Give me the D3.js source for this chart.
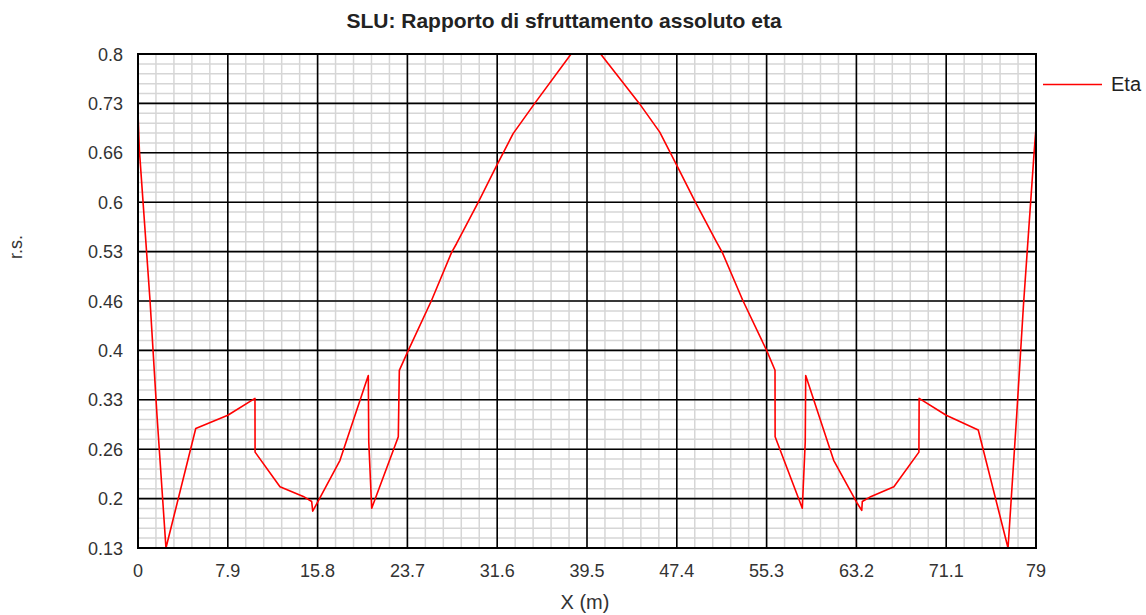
<!DOCTYPE html>
<html>
<head>
<meta charset="utf-8">
<script src="https://cdn.jsdelivr.net/npm/d3@7"></script>
<style>
  body { margin: 0; background: #fff; }
  text { font-family: "Liberation Sans", Arial, sans-serif; }
</style>
</head>
<body>
<svg width="1146" height="615"></svg>
<script>
// DATA

// x positions along the beam (m)
var xValues = [0, 0.12, 1.06, 1.67, 2.46, 5.08, 7.9, 10.29, 10.3, 12.49, 14.54, 15.28, 15.37, 15.72,
  17.77, 20.26, 20.3, 20.56, 22.9, 22.99, 23.78, 25.83, 27.59, 28.03, 29.94, 31.56, 33.0, 34.9,
  38.1, 40.7, 44.1, 45.9, 47.4, 49.0, 50.9, 51.4, 53.2, 55.3, 56.04, 56.05, 58.44, 58.7, 58.74,
  61.2, 63.3, 63.67, 63.72, 64.5, 66.5, 68.7, 68.72, 71.1, 73.92, 76.54, 77.3, 77.9, 78.85, 79];

// eta values
var etaValues = [0.72, 0.67, 0.465, 0.31, 0.13, 0.292, 0.31, 0.333, 0.26, 0.213, 0.2, 0.193, 0.18, 0.19,
  0.249, 0.364, 0.274, 0.184, 0.281, 0.371, 0.398, 0.466, 0.531, 0.543, 0.599, 0.649, 0.692, 0.733,
  0.8, 0.8, 0.733, 0.694, 0.649, 0.6, 0.545, 0.531, 0.466, 0.398, 0.371, 0.281, 0.184, 0.274, 0.364,
  0.249, 0.19, 0.181, 0.193, 0.2, 0.213, 0.26, 0.333, 0.31, 0.29, 0.13, 0.31, 0.46, 0.67, 0.70];

var xTicks = [0, 7.9, 15.8, 23.7, 31.6, 39.5, 47.4, 55.3, 63.2, 71.1, 79];
var yTicks = [0.13, 0.2, 0.26, 0.33, 0.4, 0.46, 0.53, 0.6, 0.66, 0.73, 0.8];
var yTickPos = d3.range(11).map(function(i) { return 0.13 + i * 0.067; });

// VIEW

var svg = d3.select("svg"),
    plotLeft = 138, plotRight = 1036, plotTop = 54, plotBottom = 548;

var x = d3.scaleLinear().domain([0, 79]).range([plotLeft, plotRight]);
var y = d3.scaleLinear().domain([0.13, 0.8]).range([plotBottom, plotTop]);

// minor grid (5 subdivisions per major)
var xMinor = d3.range(51).map(function(i) { return i * 79 / 50; });
var yMinor = d3.range(51).map(function(i) { return 0.13 + i * 0.067 / 5; });

var grid = svg.append("g");
grid.selectAll(".vminor").data(xMinor).enter().append("line")
    .attr("x1", function(d) { return x(d); }).attr("x2", function(d) { return x(d); })
    .attr("y1", plotTop).attr("y2", plotBottom)
    .attr("stroke", "#d6d6d6").attr("stroke-width", 1.5);
grid.selectAll(".hminor").data(yMinor).enter().append("line")
    .attr("y1", function(d) { return y(d); }).attr("y2", function(d) { return y(d); })
    .attr("x1", plotLeft).attr("x2", plotRight)
    .attr("stroke", "#d6d6d6").attr("stroke-width", 1.5);

// major grid
grid.selectAll(".vmajor").data(xTicks).enter().append("line")
    .attr("x1", function(d) { return x(d); }).attr("x2", function(d) { return x(d); })
    .attr("y1", plotTop).attr("y2", plotBottom)
    .attr("stroke", "#000").attr("stroke-width", 1.6);
grid.selectAll(".hmajor").data(yTickPos).enter().append("line")
    .attr("y1", function(d) { return y(d); }).attr("y2", function(d) { return y(d); })
    .attr("x1", plotLeft).attr("x2", plotRight)
    .attr("stroke", "#000").attr("stroke-width", 1.6);

// the eta line
var points = xValues.map(function(v, i) { return [v, etaValues[i]]; });
var line = d3.line()
    .x(function(d) { return x(d[0]); })
    .y(function(d) { return y(d[1]); });

svg.append("path")
    .datum(points)
    .attr("d", line)
    .attr("fill", "none")
    .attr("stroke", "#ff0000")
    .attr("stroke-width", 1.6)
    .attr("stroke-linejoin", "round");

// frame
svg.append("rect")
    .attr("x", plotLeft).attr("y", plotTop)
    .attr("width", plotRight - plotLeft).attr("height", plotBottom - plotTop)
    .attr("fill", "none").attr("stroke", "#000").attr("stroke-width", 2);

// tick labels
svg.selectAll(".ylab").data(yTickPos).enter().append("text")
    .attr("x", 123)
    .attr("y", function(d) { return y(d) + 6.5; })
    .attr("text-anchor", "end")
    .attr("font-size", "18px")
    .attr("fill", "#333")
    .text(function(d, i) { return yTicks[i]; });

svg.selectAll(".xlab").data(xTicks).enter().append("text")
    .attr("x", function(d) { return x(d); })
    .attr("y", 577)
    .attr("text-anchor", "middle")
    .attr("font-size", "18px")
    .attr("fill", "#333")
    .text(function(d) { return d; });

// titles
svg.append("text")
    .attr("x", 564).attr("y", 28)
    .attr("text-anchor", "middle")
    .attr("font-size", "21px")
    .attr("font-weight", "bold")
    .attr("fill", "#222")
    .text("SLU: Rapporto di sfruttamento assoluto eta");

svg.append("text")
    .attr("x", 585).attr("y", 609)
    .attr("text-anchor", "middle")
    .attr("font-size", "20px")
    .attr("fill", "#333")
    .text("X (m)");

svg.append("text")
    .attr("transform", "translate(22,247) rotate(-90)")
    .attr("text-anchor", "middle")
    .attr("font-size", "18px")
    .attr("fill", "#333")
    .text("r.s.");

// legend
svg.append("line")
    .attr("x1", 1043).attr("x2", 1102)
    .attr("y1", 84.5).attr("y2", 84.5)
    .attr("stroke", "#ff0000").attr("stroke-width", 1.6);
svg.append("text")
    .attr("x", 1111).attr("y", 91)
    .attr("font-size", "20px")
    .attr("fill", "#222")
    .text("Eta");
</script>
</body>
</html>
